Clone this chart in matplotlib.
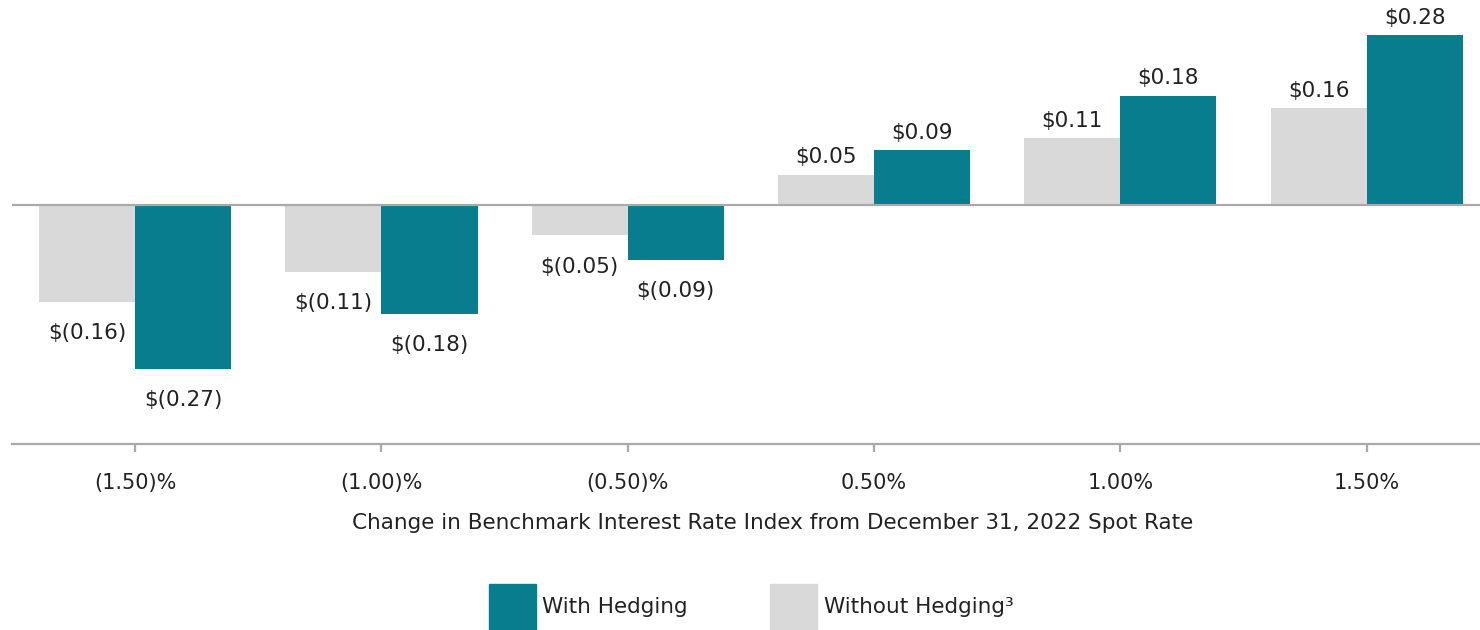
import matplotlib
matplotlib.use("Agg")
import matplotlib.pyplot as plt
from matplotlib.patches import Patch
import numpy as np

categories = ["(1.50)%", "(1.00)%", "(0.50)%", "0.50%", "1.00%", "1.50%"]
without_hedging = [-0.16, -0.11, -0.05, 0.05, 0.11, 0.16]
with_hedging = [-0.27, -0.18, -0.09, 0.09, 0.18, 0.28]

TEAL = "#077d8e"
GRAY = "#d9d9d9"
AXIS = "#aaaaaa"
TEXT = "#222222"

plt.rcParams["font.family"] = ["DejaVu Sans"]


def fmt(v):
    return f"$({abs(v):.2f})" if v < 0 else f"${v:.2f}"


fig = plt.figure(figsize=(14.8, 6.3), dpi=100)
ax = fig.add_axes([12 / 1480, 186 / 630, 1468 / 1480, 444 / 630])

x = np.arange(len(categories))
w = 0.39
b1 = ax.bar(x - w / 2, without_hedging, w, color=GRAY, zorder=2)
b2 = ax.bar(x + w / 2, with_hedging, w, color=TEAL, zorder=2)

# value labels: above positive bars, below negative ones
for bars, vals in ((b1, without_hedging), (b2, with_hedging)):
    for rect, v in zip(bars, vals):
        cx = rect.get_x() + rect.get_width() / 2
        off = 12.5 if v > 0 else -22.5
        ax.annotate(fmt(v), (cx, v), textcoords="offset points",
                    xytext=(0, off), ha="center", va="center",
                    fontsize=15.5, color=TEXT)

ax.axhline(0, color=AXIS, lw=1.6, zorder=3)
ax.set_xlim(-0.5, 5.46)
ax.set_ylim(-0.394, 0.338)

for s in ("top", "right", "left"):
    ax.spines[s].set_visible(False)
ax.spines["bottom"].set_color(AXIS)
ax.spines["bottom"].set_linewidth(1.6)
ax.set_yticks([])
ax.set_xticks(x)
ax.set_xticklabels(categories, fontsize=15, color=TEXT)
ax.tick_params(axis="x", length=6, width=1.6, color=AXIS, pad=15)
ax.set_xlabel("Change in Benchmark Interest Rate Index from December 31, 2022 Spot Rate",
              fontsize=15.5, color=TEXT, va="center")
ax.xaxis.set_label_coords(0.518, -0.178)

handles = [Patch(color=TEAL, label="With Hedging"),
           Patch(color=GRAY, label="Without Hedging³")]
fig.legend(handles=handles, loc="center", bbox_to_anchor=(751 / 1480, 1 - 607 / 630),
           ncol=2, frameon=False, fontsize=15.5, handlelength=2.2, handleheight=2.9,
           handletextpad=0.3, columnspacing=3.8, labelcolor=TEXT)

fig.savefig("out.png", dpi=100)
